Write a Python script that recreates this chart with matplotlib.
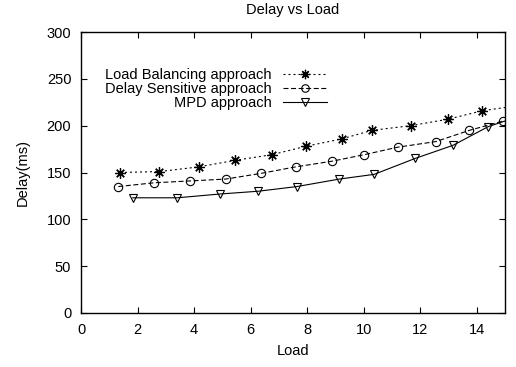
import numpy as np
import matplotlib
matplotlib.use("Agg")
import matplotlib.pyplot as plt

plt.rcParams['font.family'] = ['Liberation Sans', 'DejaVu Sans']

lb_x = [1.38, 2.77, 4.17, 5.45, 6.75, 7.96, 9.24, 10.29, 11.67, 13.0, 14.2, 15.4]
lb_y = [150, 151, 156, 163, 169, 178, 186, 195, 200, 207, 216, 221]

ds_x = [1.32, 2.58, 3.86, 5.12, 6.36, 7.59, 8.87, 10.02, 11.2, 12.55, 13.74, 14.94]
ds_y = [135, 139, 141, 143, 149, 156, 162, 169, 177, 183, 195, 205]

mpd_x = [1.83, 3.41, 4.9, 6.27, 7.64, 9.14, 10.37, 11.82, 13.16, 14.41, 15.5]
mpd_y = [123, 123, 127, 130, 135, 143, 148, 165, 179, 199, 210]

labels = ['Load Balancing approach', 'Delay Sensitive approach', 'MPD approach']

fs = 10.5

fig = plt.figure(figsize=(5.16, 3.67), dpi=100)
ax = fig.add_axes([81/516, 1-313/367, (505-81)/516, (313-32)/367])

lw = 0.8
ax.plot(lb_x, lb_y, color='black', lw=lw, dashes=(1.8, 2.7),
        marker=(8, 2, 0), markersize=7.5, markeredgewidth=0.9, label=labels[0])
ax.plot(ds_x, ds_y, color='black', lw=lw, dashes=(4.5, 2.3),
        marker='o', markersize=6, markerfacecolor='none', markeredgewidth=0.8, label=labels[1])
ax.plot(mpd_x, mpd_y, color='black', lw=lw, linestyle='-',
        marker='v', markersize=6, markerfacecolor='none', markeredgewidth=0.8, label=labels[2])

ax.set_xlim(0, 15)
ax.set_ylim(0, 300)
ax.set_xticks(np.arange(0, 15, 2))
ax.set_yticks(np.arange(0, 301, 50))
ax.tick_params(direction='in', length=4.5, width=0.8, top=True, right=True,
               labelsize=fs)
ax.tick_params(axis='y', pad=7)
ax.tick_params(axis='x', pad=7)
for s in ax.spines.values():
    s.set_linewidth(1.0)

ax.set_title('Delay vs Load', fontsize=fs, pad=13)
ax.set_xlabel('Load', fontsize=fs, labelpad=5)
ax.set_ylabel('Delay(ms)', fontsize=fs, labelpad=12)

leg = ax.legend(loc='upper right', bbox_to_anchor=(327/516, 1-68/367),
                bbox_transform=fig.transFigure, frameon=False, markerfirst=False,
                fontsize=fs, handlelength=3.0, handletextpad=0.8, labelspacing=0.0,
                borderpad=0, borderaxespad=0, markerscale=0.9)

fig.savefig('out.png', dpi=100)
